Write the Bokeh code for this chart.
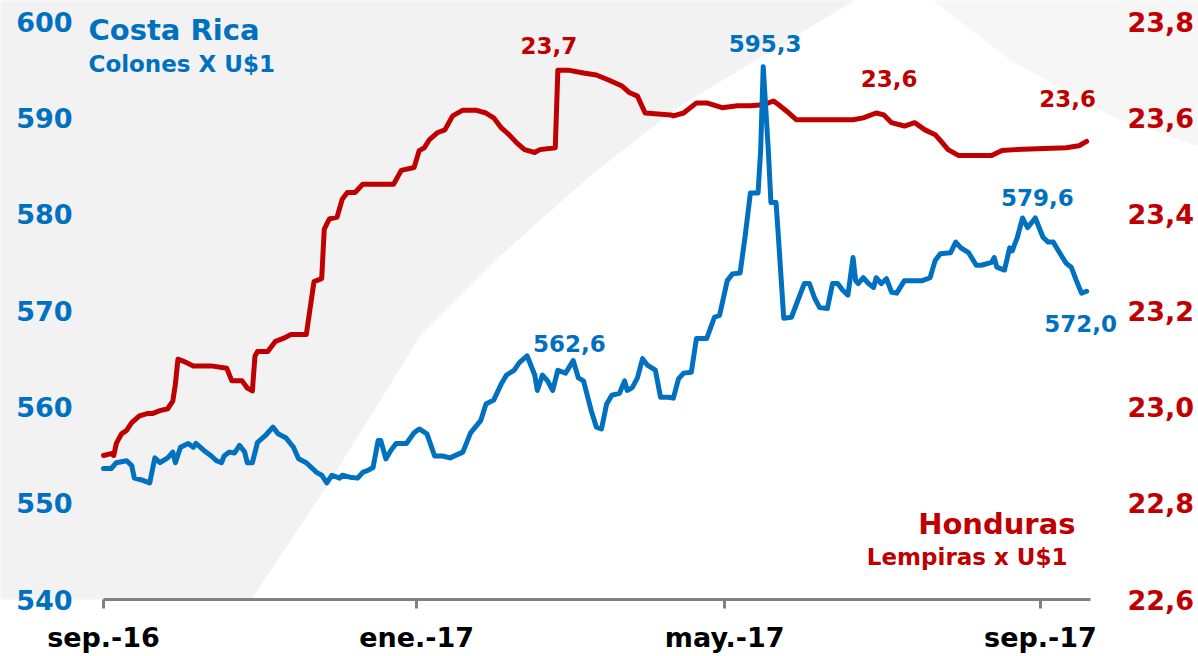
import pandas as pd
from bokeh.plotting import figure
from bokeh.models import Range1d, LinearAxis, FixedTicker, CustomJSTickFormatter, Label, ColumnDataSource
from bokeh.embed import file_html
from bokeh.resources import INLINE

# ---------------- data ----------------
cr_dates = [
    "2016-09-01", "2016-09-04", "2016-09-06", "2016-09-10", "2016-09-12", "2016-09-13", "2016-09-16", "2016-09-19",
    "2016-09-20", "2016-09-21", "2016-09-23", "2016-09-26", "2016-09-28", "2016-09-29", "2016-10-01", "2016-10-04",
    "2016-10-06", "2016-10-07", "2016-10-10", "2016-10-13", "2016-10-15", "2016-10-17", "2016-10-18", "2016-10-20",
    "2016-10-22", "2016-10-24", "2016-10-26", "2016-10-27", "2016-10-29", "2016-10-31", "2016-11-03", "2016-11-06",
    "2016-11-08", "2016-11-11", "2016-11-14", "2016-11-16", "2016-11-19", "2016-11-23", "2016-11-25", "2016-11-27",
    "2016-11-29", "2016-12-02", "2016-12-03", "2016-12-06", "2016-12-09", "2016-12-11", "2016-12-13", "2016-12-15",
    "2016-12-17", "2016-12-18", "2016-12-20", "2016-12-22", "2016-12-24", "2016-12-28", "2016-12-31", "2017-01-02",
    "2017-01-05", "2017-01-08", "2017-01-11", "2017-01-14", "2017-01-19", "2017-01-22", "2017-01-26", "2017-01-28",
    "2017-01-31", "2017-02-03", "2017-02-05", "2017-02-08", "2017-02-10", "2017-02-13", "2017-02-16", "2017-02-17",
    "2017-02-19", "2017-02-21", "2017-02-23", "2017-02-25", "2017-02-28", "2017-03-03", "2017-03-05", "2017-03-07",
    "2017-03-10", "2017-03-12", "2017-03-14", "2017-03-16", "2017-03-18", "2017-03-21", "2017-03-23", "2017-03-24",
    "2017-03-26", "2017-03-28", "2017-03-30", "2017-04-01", "2017-04-04", "2017-04-06", "2017-04-09", "2017-04-11",
    "2017-04-13", "2017-04-15", "2017-04-18", "2017-04-20", "2017-04-24", "2017-04-27", "2017-04-29", "2017-05-02",
    "2017-05-04", "2017-05-07", "2017-05-09", "2017-05-11", "2017-05-14", "2017-05-15", "2017-05-16", "2017-05-18",
    "2017-05-19", "2017-05-21", "2017-05-22", "2017-05-24", "2017-05-27", "2017-05-29", "2017-06-01", "2017-06-03",
    "2017-06-05", "2017-06-07", "2017-06-10", "2017-06-12", "2017-06-14", "2017-06-16", "2017-06-18", "2017-06-20",
    "2017-06-21", "2017-06-22", "2017-06-24", "2017-06-26", "2017-06-28", "2017-06-29", "2017-07-01", "2017-07-03",
    "2017-07-05", "2017-07-07", "2017-07-10", "2017-07-12", "2017-07-17", "2017-07-20", "2017-07-22", "2017-07-24",
    "2017-07-28", "2017-07-30", "2017-08-01", "2017-08-04", "2017-08-07", "2017-08-09", "2017-08-13", "2017-08-14",
    "2017-08-15", "2017-08-18", "2017-08-20", "2017-08-21", "2017-08-23", "2017-08-25", "2017-08-27", "2017-08-30",
    "2017-09-02", "2017-09-04", "2017-09-06", "2017-09-08", "2017-09-11", "2017-09-13", "2017-09-15", "2017-09-17",
    "2017-09-19",
]
cr_values = [
    553.6, 553.6, 554.2, 554.4, 553.9, 552.6, 552.4, 552.1,
    553.4, 554.7, 554.2, 554.7, 555.3, 554.2, 555.8, 556.2,
    555.8, 556.2, 555.5, 554.9, 554.4, 554.2, 554.9, 555.3,
    555.2, 556.0, 555.3, 554.2, 554.2, 556.3, 557.0, 557.9,
    557.2, 556.8, 555.8, 554.6, 554.2, 553.2, 552.9, 552.1,
    552.9, 552.6, 552.9, 552.7, 552.6, 553.2, 553.4, 553.7,
    556.5, 556.5, 554.6, 555.5, 556.2, 556.2, 557.3, 557.7,
    557.2, 554.9, 554.9, 554.7, 555.3, 557.3, 558.6, 560.3,
    560.7, 562.4, 563.3, 563.8, 564.6, 565.3, 563.3, 561.7,
    563.3, 562.7, 561.7, 563.8, 563.5, 564.8, 563.0, 562.7,
    559.6, 557.9, 557.7, 560.3, 561.2, 561.4, 562.7, 561.7,
    562.0, 563.0, 565.0, 564.3, 563.8, 561.0, 561.0, 560.9,
    562.9, 563.5, 563.6, 567.1, 567.1, 569.3, 569.5, 573.1,
    573.8, 573.9, 577.8, 582.2, 582.2, 586.6, 595.3, 586.6,
    581.2, 581.2, 577.3, 569.2, 569.3, 570.7, 572.8, 572.8,
    571.3, 570.3, 570.2, 572.8, 572.8, 572.1, 571.6, 575.5,
    573.1, 572.8, 573.4, 572.8, 572.4, 573.4, 572.8, 573.3,
    571.9, 571.8, 573.1, 573.1, 573.1, 573.4, 575.2, 575.9,
    576.0, 577.1, 576.5, 576.0, 574.7, 574.7, 575.0, 575.5,
    574.5, 574.2, 576.5, 576.2, 577.6, 579.6, 578.6, 579.6,
    577.6, 577.1, 577.1, 576.2, 574.9, 574.5, 573.1, 571.8,
    572.0,
]

hn_dates = [
    "2016-09-01", "2016-09-04", "2016-09-05", "2016-09-06", "2016-09-08", "2016-09-10", "2016-09-12", "2016-09-15",
    "2016-09-18", "2016-09-20", "2016-09-23", "2016-09-26", "2016-09-28", "2016-09-29", "2016-09-30", "2016-10-02",
    "2016-10-06", "2016-10-13", "2016-10-19", "2016-10-21", "2016-10-25", "2016-10-27", "2016-10-29", "2016-10-30",
    "2016-10-31", "2016-11-04", "2016-11-07", "2016-11-10", "2016-11-13", "2016-11-19", "2016-11-22", "2016-11-25",
    "2016-11-26", "2016-11-28", "2016-12-01", "2016-12-03", "2016-12-05", "2016-12-08", "2016-12-11", "2016-12-23",
    "2016-12-26", "2016-12-31", "2017-01-02", "2017-01-04", "2017-01-06", "2017-01-09", "2017-01-12", "2017-01-15",
    "2017-01-19", "2017-01-24", "2017-01-28", "2017-01-31", "2017-02-03", "2017-02-06", "2017-02-09", "2017-02-12",
    "2017-02-16", "2017-02-18", "2017-02-24", "2017-02-25", "2017-03-01", "2017-03-07", "2017-03-12", "2017-03-17",
    "2017-03-22", "2017-03-25", "2017-03-28", "2017-03-31", "2017-04-10", "2017-04-11", "2017-04-15", "2017-04-20",
    "2017-04-24", "2017-04-30", "2017-05-06", "2017-05-11", "2017-05-16", "2017-05-20", "2017-05-22", "2017-05-26",
    "2017-05-29", "2017-06-03", "2017-06-20", "2017-06-24", "2017-06-29", "2017-07-02", "2017-07-05", "2017-07-10",
    "2017-07-14", "2017-07-18", "2017-07-22", "2017-07-24", "2017-07-27", "2017-07-31", "2017-08-13", "2017-08-17",
    "2017-08-22", "2017-09-11", "2017-09-16", "2017-09-19",
]
hn_values = [
    22.899, 22.903, 22.899, 22.924, 22.944, 22.951, 22.967, 22.981,
    22.986, 22.986, 22.992, 22.996, 23.012, 23.047, 23.099, 23.095,
    23.085, 23.085, 23.080, 23.054, 23.054, 23.039, 23.033, 23.105,
    23.115, 23.115, 23.136, 23.142, 23.150, 23.150, 23.260, 23.266,
    23.369, 23.390, 23.394, 23.431, 23.445, 23.445, 23.462, 23.462,
    23.491, 23.497, 23.532, 23.538, 23.555, 23.569, 23.575, 23.604,
    23.616, 23.616, 23.610, 23.600, 23.579, 23.565, 23.548, 23.534,
    23.528, 23.534, 23.538, 23.699, 23.699, 23.693, 23.689, 23.678,
    23.666, 23.652, 23.645, 23.610, 23.606, 23.604, 23.610, 23.631,
    23.631, 23.621, 23.625, 23.625, 23.627, 23.635, 23.627, 23.610,
    23.596, 23.596, 23.596, 23.600, 23.610, 23.606, 23.590, 23.583,
    23.590, 23.575, 23.565, 23.553, 23.534, 23.522, 23.522, 23.532,
    23.534, 23.538, 23.542, 23.551,
]

x_tick_dates = ["2016-09-01", "2017-01-01", "2017-05-01", "2017-09-01"]
x_tick_labels = ["sep.-16", "ene.-17", "may.-17", "sep.-17"]
cr_ticks = [540, 550, 560, 570, 580, 590, 600]
hn_ticks = [22.6, 22.8, 23.0, 23.2, 23.4, 23.6, 23.8]

# annotated points: (date, text)
cr_notes = [("2017-05-16", "595,3"), ("2017-03-03", "562,6"), ("2017-08-30", "579,6"), ("2017-09-19", "572,0")]
hn_notes = [("2017-02-25", "23,7"), ("2017-06-29", "23,6"), ("2017-09-19", "23,6")]

# ---------------- layout / styling ----------------
BLUE = "#0070C0"
RED = "#C00000"
FONT = "DejaVu Sans"
W, H = 1198, 656
BOTTOM = 57                    # height of the x-axis panel
AX_L, AX_R = 103, 1090         # pixel span of the date axis inside the frame
Y_TOP, Y_BOT = 21, 599         # pixel rows of 600 / 540

def ms(d):
    return pd.Timestamp(d).value // 10**6

x_start = pd.Timestamp("2016-09-01")
x_end = pd.Timestamp("2017-09-20 12:00")
per_px = (x_end - x_start) / (AX_R - AX_L)
x_lo = x_start - per_px * AX_L
x_hi = x_end + per_px * (W - AX_R)
cr_lo, cr_hi = 540, 600
hn_lo, hn_hi = 22.6, 23.8
cr_top = cr_hi + (cr_hi - cr_lo) * Y_TOP / (Y_BOT - Y_TOP)
hn_top = hn_hi + (hn_hi - hn_lo) * Y_TOP / (Y_BOT - Y_TOP)

p = figure(width=W, height=H, x_axis_type="datetime", output_backend="svg", toolbar_location=None,
           x_range=Range1d(x_lo, x_hi), y_range=Range1d(cr_lo, cr_top),
           min_border_left=0, min_border_right=0, min_border_top=0, min_border_bottom=BOTTOM)
p.extra_y_ranges = {"hn": Range1d(hn_lo, hn_top)}
p.background_fill_color = "white"
p.border_fill_color = "white"
p.outline_line_color = None
p.grid.visible = False

# decorative background swoosh (outline in page pixels mapped into the frame)
def px2x(px):
    return x_start + per_px * (px - AX_L)
def py2y(py):
    return cr_hi - (py - Y_TOP) * (cr_hi - cr_lo) / (Y_BOT - Y_TOP)
sw = [(-50, 700), (200, 700), (250, 600), (330, 480), (420, 335), (500, 255), (590, 175),
      (680, 105), (780, 45), (870, -10), (-50, -10)]
p.patch([px2x(a) for a, b in sw], [py2y(b) for a, b in sw], fill_color="#f2f2f2", line_color=None)
sw2 = [(920, -10), (1210, -10), (1210, 150), (1110, 115), (1010, 60)]
p.patch([px2x(a) for a, b in sw2], [py2y(b) for a, b in sw2], fill_color="#f6f6f6", line_color=None)

# lines
hn_src = ColumnDataSource(dict(x=pd.to_datetime(hn_dates), y=hn_values))
cr_src = ColumnDataSource(dict(x=pd.to_datetime(cr_dates), y=cr_values))
p.line("x", "y", source=hn_src, y_range_name="hn", line_color=RED, line_width=5, line_join="round", line_cap="round")
p.line("x", "y", source=cr_src, line_color=BLUE, line_width=5, line_join="round", line_cap="round")

# x axis
xa = p.xaxis[0]
xa.bounds = (x_start, x_end)
xa.ticker = FixedTicker(ticks=[ms(d) for d in x_tick_dates])
xa.formatter = CustomJSTickFormatter(args=dict(t=[ms(d) for d in x_tick_dates], l=x_tick_labels), code="""
    for (let i = 0; i < t.length; i++) { if (Math.abs(t[i] - tick) < 1e6) return l[i]; }
    return '';
""")
xa.axis_line_color = "#808080"
xa.axis_line_width = 3
xa.major_tick_line_color = "#808080"
xa.major_tick_line_width = 3
xa.major_tick_in = 0
xa.major_tick_out = 9
xa.minor_tick_line_color = None
xa.major_label_text_font = FONT
xa.major_label_text_font_style = "bold"
xa.major_label_text_font_size = "27px"
xa.major_label_text_color = "black"
xa.major_label_standoff = 13

# left axis (labels pulled inside the frame)
ya = p.yaxis[0]
ya.ticker = FixedTicker(ticks=cr_ticks)
ya.formatter = CustomJSTickFormatter(code="return tick.toFixed(0);")
ya.axis_line_color = None
ya.major_tick_line_color = None
ya.minor_tick_line_color = None
ya.major_tick_out = 0
ya.major_tick_in = 0
ya.major_label_text_font = FONT
ya.major_label_text_font_style = "bold"
ya.major_label_text_font_size = "27px"
ya.major_label_text_color = BLUE
ya.major_label_standoff = -72

# right axis
ra = LinearAxis(y_range_name="hn", ticker=FixedTicker(ticks=hn_ticks),
                formatter=CustomJSTickFormatter(code="return tick.toFixed(1).replace('.', ',');"))
ra.axis_line_color = None
ra.major_tick_line_color = None
ra.minor_tick_line_color = None
ra.major_tick_out = 0
ra.major_tick_in = 0
ra.major_label_text_font = FONT
ra.major_label_text_font_style = "bold"
ra.major_label_text_font_size = "27px"
ra.major_label_text_color = RED
ra.major_label_standoff = -71
p.add_layout(ra, "right")

# annotations on the lines
cr_lookup = dict(zip(cr_dates, cr_values))
hn_lookup = dict(zip(hn_dates, hn_values))
cr_offsets = [(2, 23), (-4, 17), (2, 21), (-6, -32)]
hn_offsets = [(-9, 25), (13, 35), (-19, 43)]
for (d, t), (dx, dy) in zip(cr_notes, cr_offsets):
    p.add_layout(Label(x=ms(d), y=cr_lookup[d], text=t, x_offset=dx, y_offset=dy,
                       text_align="center", text_baseline="middle", text_font=FONT,
                       text_font_style="bold", text_font_size="23px", text_color=BLUE))
for (d, t), (dx, dy) in zip(hn_notes, hn_offsets):
    p.add_layout(Label(x=ms(d), y=hn_lookup[d], y_range_name="hn", text=t, x_offset=dx, y_offset=dy,
                       text_align="center", text_baseline="middle", text_font=FONT,
                       text_font_style="bold", text_font_size="23px", text_color=RED))

# series titles
p.add_layout(Label(x=ms(x_start), y=cr_hi, x_offset=-15, y_offset=-8, text="Costa Rica",
                   text_align="left", text_baseline="alphabetic", text_font=FONT, text_font_style="bold",
                   text_font_size="29px", text_color=BLUE))
p.add_layout(Label(x=ms(x_start), y=cr_hi, x_offset=-15, y_offset=-42, text="Colones X U$1",
                   text_align="left", text_baseline="alphabetic", text_font=FONT, text_font_style="bold",
                   text_font_size="23px", text_color=BLUE))
p.add_layout(Label(x=ms(x_end), y=cr_lo, x_offset=-15, y_offset=76, text="Honduras",
                   text_align="right", text_baseline="alphabetic", text_font=FONT, text_font_style="bold",
                   text_font_size="29px", text_color=RED))
p.add_layout(Label(x=ms(x_end), y=cr_lo, x_offset=-15, y_offset=43, text="Lempiras  x U$1",
                   text_align="right", text_baseline="alphabetic", text_font=FONT, text_font_style="bold",
                   text_font_size="23px", text_color=RED))

open("out.html", "w").write(file_html(p, INLINE))
